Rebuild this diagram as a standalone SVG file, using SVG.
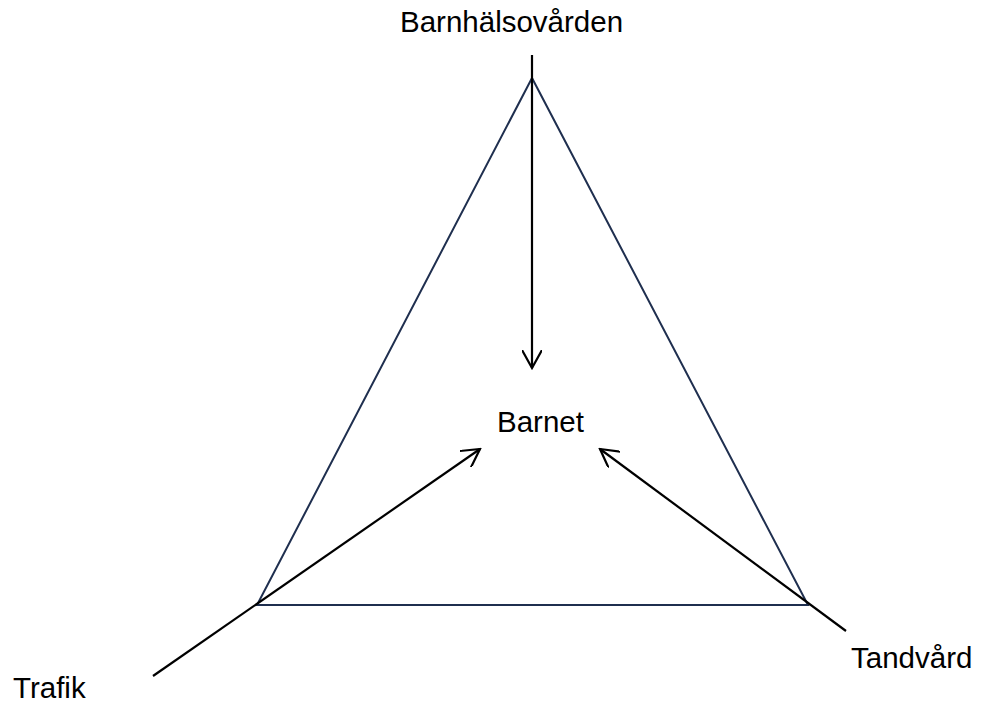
<svg xmlns="http://www.w3.org/2000/svg" width="982" height="704" viewBox="0 0 982 704">
<style>
text{font-family:"Liberation Sans",Arial,sans-serif;font-size:29.5px;fill:#000}
.tri{fill:none;stroke:#1f2f4f;stroke-width:2}
.arr{fill:none;stroke:#000;stroke-width:2.2}
</style>
<defs>
<marker id="open" viewBox="0 0 20 20" refX="18" refY="10" markerWidth="20" markerHeight="20" markerUnits="userSpaceOnUse" orient="auto">
<path d="M0,0 L18,10 L0,20" fill="none" stroke="#000" stroke-width="2.2"/>
</marker>
</defs>
<rect width="982" height="704" fill="#fff"/>
<g id="triangle"><polygon class="tri" points="532,78 257,605 808,605"/></g>
<g id="barnhalsovarden"><text x="400" y="32">Barnhälsovården</text></g>
<g id="barnet"><text x="497" y="432">Barnet</text></g>
<g id="trafik"><text x="13" y="698">Trafik</text></g>
<g id="tandvard"><text x="851" y="668">Tandvård</text></g>
<g id="connectors">
<line class="arr" x1="532" y1="55" x2="532" y2="368" marker-end="url(#open)"/>
<line class="arr" x1="153" y1="676" x2="480" y2="449" marker-end="url(#open)"/>
<line class="arr" x1="846" y1="631" x2="600" y2="449" marker-end="url(#open)"/>
</g>
</svg>
